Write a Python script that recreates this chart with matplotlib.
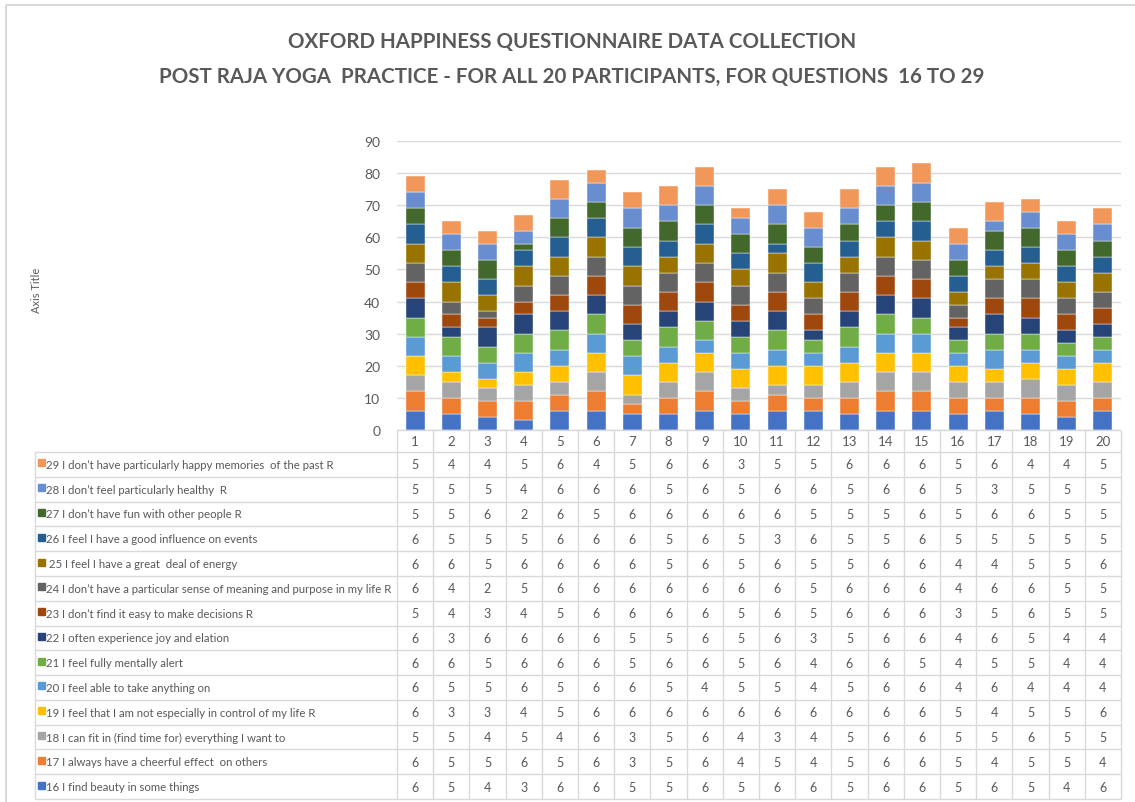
import matplotlib.pyplot as plt
import numpy as np
from matplotlib.patches import Rectangle

plt.rcParams['font.family'] = ['Lato', 'DejaVu Sans']

# scores per question, one value per participant (1..20)
participants = list(range(1, 21))
q16 = [6, 5, 4, 3, 6, 6, 5, 5, 6, 5, 6, 6, 5, 6, 6, 5, 6, 5, 4, 6]
q17 = [6, 5, 5, 6, 5, 6, 3, 5, 6, 4, 5, 4, 5, 6, 6, 5, 4, 5, 5, 4]
q18 = [5, 5, 4, 5, 4, 6, 3, 5, 6, 4, 3, 4, 5, 6, 6, 5, 5, 6, 5, 5]
q19 = [6, 3, 3, 4, 5, 6, 6, 6, 6, 6, 6, 6, 6, 6, 6, 5, 4, 5, 5, 6]
q20 = [6, 5, 5, 6, 5, 6, 6, 5, 4, 5, 5, 4, 5, 6, 6, 4, 6, 4, 4, 4]
q21 = [6, 6, 5, 6, 6, 6, 5, 6, 6, 5, 6, 4, 6, 6, 5, 4, 5, 5, 4, 4]
q22 = [6, 3, 6, 6, 6, 6, 5, 5, 6, 5, 6, 3, 5, 6, 6, 4, 6, 5, 4, 4]
q23 = [5, 4, 3, 4, 5, 6, 6, 6, 6, 5, 6, 5, 6, 6, 6, 3, 5, 6, 5, 5]
q24 = [6, 4, 2, 5, 6, 6, 6, 6, 6, 6, 6, 5, 6, 6, 6, 4, 6, 6, 5, 5]
q25 = [6, 6, 5, 6, 6, 6, 6, 5, 6, 5, 6, 5, 5, 6, 6, 4, 4, 5, 5, 6]
q26 = [6, 5, 5, 5, 6, 6, 6, 5, 6, 5, 3, 6, 5, 5, 6, 5, 5, 5, 5, 5]
q27 = [5, 5, 6, 2, 6, 5, 6, 6, 6, 6, 6, 5, 5, 5, 6, 5, 6, 6, 5, 5]
q28 = [5, 5, 5, 4, 6, 6, 6, 5, 6, 5, 6, 6, 5, 6, 6, 5, 3, 5, 5, 5]
q29 = [5, 4, 4, 5, 6, 4, 5, 6, 6, 3, 5, 5, 6, 6, 6, 5, 6, 4, 4, 5]

labels = [
    "16 I find beauty in some things",
    "17 I always have a cheerful effect  on others",
    "18 I can fit in (find time for) everything I want to",
    "19 I feel that I am not especially in control of my life R",
    "20 I feel able to take anything on",
    "21 I feel fully mentally alert",
    "22 I often experience joy and elation",
    "23 I don’t find it easy to make decisions R",
    "24 I don’t have a particular sense of meaning and purpose in my life R",
    " 25 I feel I have a great  deal of energy",
    "26 I feel I have a good influence on events",
    "27 I don’t have fun with other people R",
    "28 I don’t feel particularly healthy  R",
    "29 I don’t have particularly happy memories  of the past R",
]
colors = ["#4472C4", "#ED7D31", "#A5A5A5", "#FFC000", "#5B9BD5", "#70AD47",
          "#264478", "#9E480E", "#636363", "#997300", "#255E91", "#43682B",
          "#698ED0", "#F1975A"]
series = [q16, q17, q18, q19, q20, q21, q22, q23, q24, q25, q26, q27, q28, q29]

W, H = 1135, 803
grey = "#595959"
line_c = "#D9D9D9"

fig = plt.figure(figsize=(W / 100, H / 100), dpi=100)

# plot area in pixel positions
x0, x1 = 397, 1121
y_zero, y_top = 431, 142
ax = fig.add_axes([x0 / W, 1 - y_zero / H, (x1 - x0) / W, (y_zero - y_top) / H])
bottom = np.zeros(len(participants))
for vals, c in zip(series, colors):
    ax.bar(participants, vals, width=0.52, bottom=bottom, color=c,
           edgecolor="white", linewidth=0.3, zorder=3)
    bottom += np.array(vals)

ax.set_xlim(0.5, 20.5)
ax.set_ylim(0, 90)
ax.set_yticks(range(0, 91, 10))
ax.set_xticks([])
ax.tick_params(axis="y", length=0, pad=12, labelsize=10, labelcolor=grey)
ax.grid(axis="y", color=line_c, linewidth=1, zorder=0)
for s in ax.spines.values():
    s.set_visible(False)

# data table under the bars
tab = fig.add_axes([0, 0, 1, 1], facecolor="none")
tab.set_xlim(0, W)
tab.set_ylim(H, 0)
tab.axis("off")

col_x = np.linspace(x0, x1, len(participants) + 1)
row_y = np.linspace(453, 800, len(series) + 1)
tab.hlines(y_zero, x0, x1, color=line_c, lw=1)
tab.hlines(row_y, 35, x1, color=line_c, lw=1)
tab.vlines(col_x, y_zero, row_y[-1], color=line_c, lw=1)
tab.vlines(35, row_y[0], row_y[-1], color=line_c, lw=1)

centers = (col_x[:-1] + col_x[1:]) / 2
for cx, p in zip(centers, participants):
    tab.text(cx, (y_zero + row_y[0]) / 2, str(p), ha="center", va="center",
             fontsize=9.5, color=grey)

rows = list(zip(labels, series, colors))[::-1]
for i, (lab, vals, c) in enumerate(rows):
    cy = (row_y[i] + row_y[i + 1]) / 2
    tab.add_patch(Rectangle((38, cy - 5), 7, 7, color=c))
    tab.text(46, cy, lab, ha="left", va="center", fontsize=8.2, color=grey)
    for cx, v in zip(centers, vals):
        tab.text(cx, cy, str(v), ha="center", va="center", fontsize=9, color=grey)

# outer chart frame
tab.hlines(6, 6, W, color=line_c, lw=1.5)
tab.vlines(6, 6, H, color=line_c, lw=1.5)

fig.text(572 / W, 1 - 42 / H, "OXFORD HAPPINESS QUESTIONNAIRE DATA COLLECTION",
         ha="center", va="center", fontsize=14.8, fontweight="bold", color=grey)
fig.text(572 / W, 1 - 77 / H,
         "POST RAJA YOGA  PRACTICE - FOR ALL 20 PARTICIPANTS, FOR QUESTIONS  16 TO 29",
         ha="center", va="center", fontsize=14.8, fontweight="bold", color=grey)
fig.text(36 / W, 1 - 290 / H, "Axis Title", rotation=90, ha="center", va="center",
         fontsize=8, color=grey)

fig.savefig("out.png", dpi=100)
